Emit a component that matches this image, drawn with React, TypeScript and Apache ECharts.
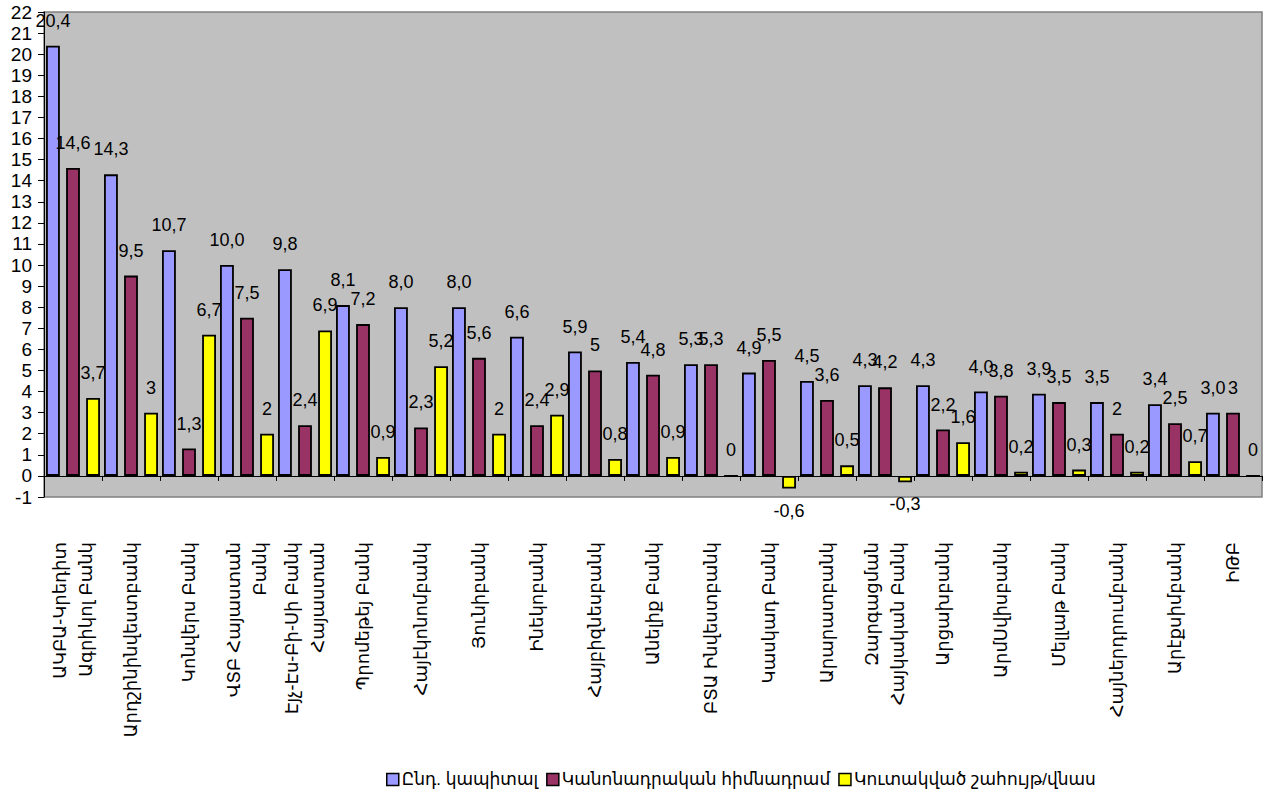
import React, { useEffect, useRef } from "react";
import * as echarts from "echarts";

const categories = [
  "ԱԿԲԱ-Կրեդիտ\nԱգրիկոլ Բանկ",
  "Արդշինինվեստբանկ",
  "Կոնվերս Բանկ",
  "ՎՏԲ Հայաստան\nԲանկ",
  "Էյչ-Էս-Բի-Սի Բանկ\nՀայաստան",
  "Պրոմեթեյ Բանկ",
  "Հայէկոնոմբանկ",
  "Յունիբանկ",
  "Ինեկոբանկ",
  "Հայբիզնեսբանկ",
  "Անելիք Բանկ",
  "ԲՏԱ Ինվեստբանկ",
  "Կասկադ Բանկ",
  "Արարատբանկ",
  "Զարգացման\nՀայկական Բանկ",
  "Արցախբանկ",
  "ԱրմՍվիսբանկ",
  "Մելլաթ Բանկ",
  "Հայներդրումբանկ",
  "Արէքսիմբանկ",
  "ԻԹԲ",
];

const totalCapital = [20.4, 14.3, 10.7, 10.0, 9.8, 8.1, 8.0, 8.0, 6.6, 5.9, 5.4, 5.3, 4.9, 4.5, 4.3, 4.3, 4.0, 3.9, 3.5, 3.4, 3.0];
const charterCapital = [14.6, 9.5, 1.3, 7.5, 2.4, 7.2, 2.3, 5.6, 2.4, 5, 4.8, 5.3, 5.5, 3.6, 4.2, 2.2, 3.8, 3.5, 2, 2.5, 3];
const retainedEarnings = [3.7, 3, 6.7, 2, 6.9, 0.9, 5.2, 2, 2.9, 0.8, 0.9, 0, -0.6, 0.5, -0.3, 1.6, 0.2, 0.3, 0.2, 0.7, 0];

const seriesNames = ["Ընդ. կապիտալ", "Կանոնադրական հիմնադրամ", "Կուտակված շահույթ/վնաս"];
const seriesColors = ["#9999FF", "#993366", "#FFFF00"];

const FONT = "Arial, 'Liberation Sans', 'DejaVu Sans', sans-serif";

export default function App() {
  const ref = useRef<HTMLDivElement>(null);
  useEffect(() => {
    if (!ref.current) return;
    const chart = echarts.init(ref.current, null, { renderer: "svg" });
    const comma = (v: number, fixed: boolean) =>
      (fixed ? v.toFixed(1) : String(v)).replace(".", ",");
    const mkData = (arr: number[]) =>
      arr.map((v) => (v < 0 ? { value: v, label: { position: "bottom", distance: 13 } } : { value: v }));
    const labelBase = {
      show: true,
      position: "top",
      distance: 16,
      color: "#000",
      fontSize: 18,
      fontFamily: FONT,
    };
    const barStyle = (c: string) => ({ color: c, borderColor: "#000", borderWidth: 1.8 });
    chart.setOption({
      animation: false,
      textStyle: { fontFamily: FONT },
      grid: {
        left: 44,
        right: 1,
        top: 12,
        bottom: 313,
        show: true,
        backgroundColor: "#C0C0C0",
        borderColor: "#808080",
        borderWidth: 1.5,
      },
      legend: {
        left: 381,
        top: 766,
        itemWidth: 12,
        itemHeight: 12,
        itemGap: 8,
        textStyle: { fontSize: 17, color: "#000", fontFamily: FONT, padding: [0, 0, 0, -2] },
        data: seriesNames.map((n) => ({ name: n, icon: "rect", itemStyle: { borderColor: "#000", borderWidth: 1.5 } })),
      },
      xAxis: {
        type: "category",
        data: categories,
        axisLine: { onZero: true, lineStyle: { color: "#000", width: 1 } },
        axisTick: { show: true, length: 5, lineStyle: { color: "#000" } },
        axisLabel: {
          rotate: 90,
          interval: 0,
          margin: 45,
          fontSize: 18,
          lineHeight: 26,
          color: "#000",
          fontFamily: FONT,
        },
      },
      yAxis: {
        type: "value",
        min: -1,
        max: 22,
        interval: 1,
        splitLine: { show: false },
        axisLine: { show: true, lineStyle: { color: "#000", width: 1 } },
        axisTick: { show: true, length: 6, lineStyle: { color: "#000" } },
        axisLabel: { fontSize: 19, color: "#000", margin: 12, fontFamily: FONT },
      },
      series: [
        {
          name: seriesNames[0],
          type: "bar",
          data: mkData(totalCapital),
          itemStyle: barStyle(seriesColors[0]),
          barGap: "45%",
          barCategoryGap: "7%",
          label: { ...labelBase, formatter: (p: any) => comma(p.value, true) },
        },
        {
          name: seriesNames[1],
          type: "bar",
          data: mkData(charterCapital),
          itemStyle: barStyle(seriesColors[1]),
          barGap: "45%",
          barCategoryGap: "7%",
          label: { ...labelBase, formatter: (p: any) => comma(p.value, false) },
        },
        {
          name: seriesNames[2],
          type: "bar",
          data: mkData(retainedEarnings),
          itemStyle: barStyle(seriesColors[2]),
          barGap: "45%",
          barCategoryGap: "7%",
          label: { ...labelBase, formatter: (p: any) => comma(p.value, false) },
        },
      ],
    });
    return () => chart.dispose();
  }, []);
  return <div ref={ref} style={{ position: "absolute", left: 0, top: 0, width: 1263, height: 810 }} />;
}
